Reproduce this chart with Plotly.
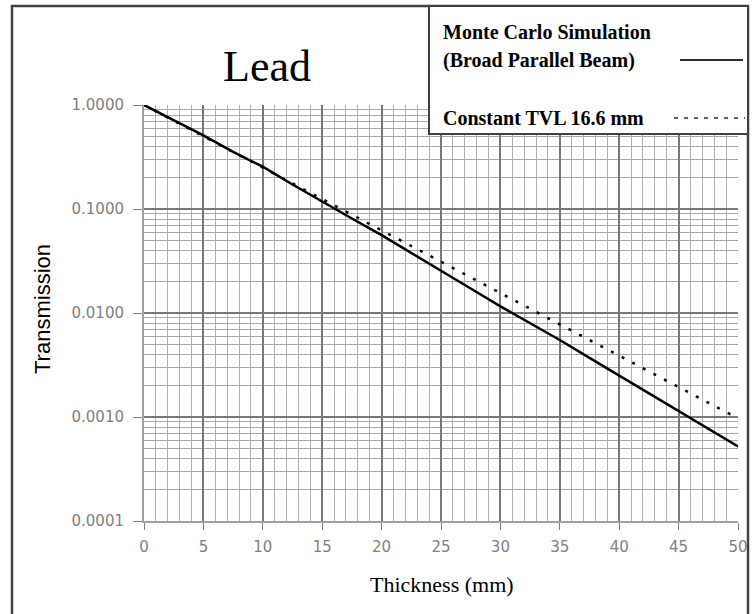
import plotly.graph_objects as go

# Data
thickness_mc = [0, 2.5, 5, 7.5, 10, 12.5, 15, 17.5, 20, 22.5, 25, 27.5, 30,
                32.5, 35, 37.5, 40, 42.5, 45, 47.5, 50]
transmission_mc = [1.0, 0.71, 0.51, 0.355, 0.255, 0.172, 0.117, 0.081, 0.056,
                   0.038, 0.0255, 0.0172, 0.0116, 0.0080, 0.0055, 0.0037,
                   0.0025, 0.00168, 0.00113, 0.00077, 0.00052]

thickness_tvl = [0, 5, 10, 15, 20, 25, 30, 35, 40, 45, 50]
transmission_tvl = [1.0, 0.50, 0.25, 0.125, 0.0625, 0.031, 0.0155, 0.0078,
                    0.0039, 0.00193, 0.00097]

x_ticks = [0, 5, 10, 15, 20, 25, 30, 35, 40, 45, 50]
y_ticks = [1.0, 0.1, 0.01, 0.001, 0.0001]
y_tick_labels = ["1.0000", "0.1000", "0.0100", "0.0010", "0.0001"]

title_text = "Lead"
x_title = "Thickness (mm)"
y_title = "Transmission"
legend_mc_1 = "Monte Carlo Simulation"
legend_mc_2 = "(Broad Parallel Beam)"
legend_tvl = "Constant TVL 16.6 mm"

W, H = 754, 614
L, R, T, B = 144, 16, 105, 93
pw, ph = W - L - R, H - T - B


def px(x):
    return (x - L) / pw


def py(y):
    return (H - B - y) / ph


fig = go.Figure()
fig.add_trace(go.Scatter(x=thickness_tvl, y=transmission_tvl, mode="lines",
                         line=dict(color="black", width=2.5, dash="3px,9px"),
                         showlegend=False))
fig.add_trace(go.Scatter(x=thickness_mc, y=transmission_mc, mode="lines",
                         line=dict(color="black", width=2.5),
                         showlegend=False))

serif = "Liberation Serif"
sans = "Liberation Sans"
wide = "DejaVu Sans"

shapes = [
    # outer frame
    dict(type="rect", xref="paper", yref="paper", x0=px(12), x1=px(748),
         y0=py(6), y1=py(640), line=dict(color="#404040", width=2.5),
         layer="above"),
    # legend box
    dict(type="rect", xref="paper", yref="paper", x0=px(429), x1=px(748),
         y0=py(6), y1=py(134), line=dict(color="#404040", width=2),
         fillcolor="white", layer="above"),
    dict(type="line", xref="paper", yref="paper", x0=px(680), x1=px(743),
         y0=py(60), y1=py(60), line=dict(color="#303030", width=2),
         layer="above"),
    dict(type="line", xref="paper", yref="paper", x0=px(674), x1=px(745),
         y0=py(118), y1=py(118),
         line=dict(color="#606060", width=2, dash="4px,6px"),
         layer="above"),
]

leg_font = dict(family=serif, size=20, color="black")
annotations = [
    dict(text=title_text, xref="paper", yref="paper", x=px(267), y=py(66),
         showarrow=False, font=dict(family=serif, size=44, color="black"),
         xanchor="center", yanchor="middle"),
    dict(text=x_title, xref="paper", yref="paper", x=px(442), y=py(584),
         showarrow=False, font=dict(family=serif, size=22, color="black"),
         xanchor="center", yanchor="middle"),
    dict(text=y_title, xref="paper", yref="paper", x=px(42), y=py(309),
         showarrow=False, textangle=-90,
         font=dict(family=sans, size=22, color="black"),
         xanchor="center", yanchor="middle"),
    dict(text="<b>" + legend_mc_1 + "</b>", xref="paper", yref="paper",
         x=px(441), y=py(32), showarrow=False, font=leg_font,
         xanchor="left", yanchor="middle"),
    dict(text="<b>" + legend_mc_2 + "</b>", xref="paper", yref="paper",
         x=px(441), y=py(60), showarrow=False, font=leg_font,
         xanchor="left", yanchor="middle"),
    dict(text="<b>" + legend_tvl + "</b>", xref="paper", yref="paper",
         x=px(441), y=py(118), showarrow=False, font=leg_font,
         xanchor="left", yanchor="middle"),
]

fig.update_layout(
    width=W, height=H,
    margin=dict(l=L, r=R, t=T, b=B, pad=0),
    paper_bgcolor="white", plot_bgcolor="white",
    shapes=shapes, annotations=annotations,
    showlegend=False,
)

fig.update_xaxes(
    range=[0, 50], tickvals=x_ticks, ticktext=[str(v) for v in x_ticks],
    showgrid=True, gridcolor="#787878", gridwidth=1.5,
    minor=dict(dtick=1, showgrid=True, gridcolor="#b0b0b0", gridwidth=1),
    ticks="outside", ticklen=7, tickcolor="#808080",
    showline=True, linecolor="#a0a0a0", linewidth=2,
    tickfont=dict(family=wide, size=15, color="#808080"),
    ticklabelstandoff=4,
    zeroline=False, automargin=False,
)
fig.update_yaxes(
    type="log", range=[-4, 0], tickvals=y_ticks, ticktext=y_tick_labels,
    showgrid=True, gridcolor="#787878", gridwidth=1.5,
    minor=dict(dtick="D1", showgrid=True, gridcolor="#a8a8a8", gridwidth=1),
    ticks="outside", ticklen=9, tickcolor="#808080",
    showline=True, linecolor="#a0a0a0", linewidth=2,
    tickfont=dict(family=wide, size=15, color="#808080"),
    ticklabelstandoff=6,
    zeroline=False, automargin=False,
)

fig.write_html(
    "out.html",
    config={"displayModeBar": False},
    post_script="document.body.style.margin='0';document.body.style.padding='0';",
)
